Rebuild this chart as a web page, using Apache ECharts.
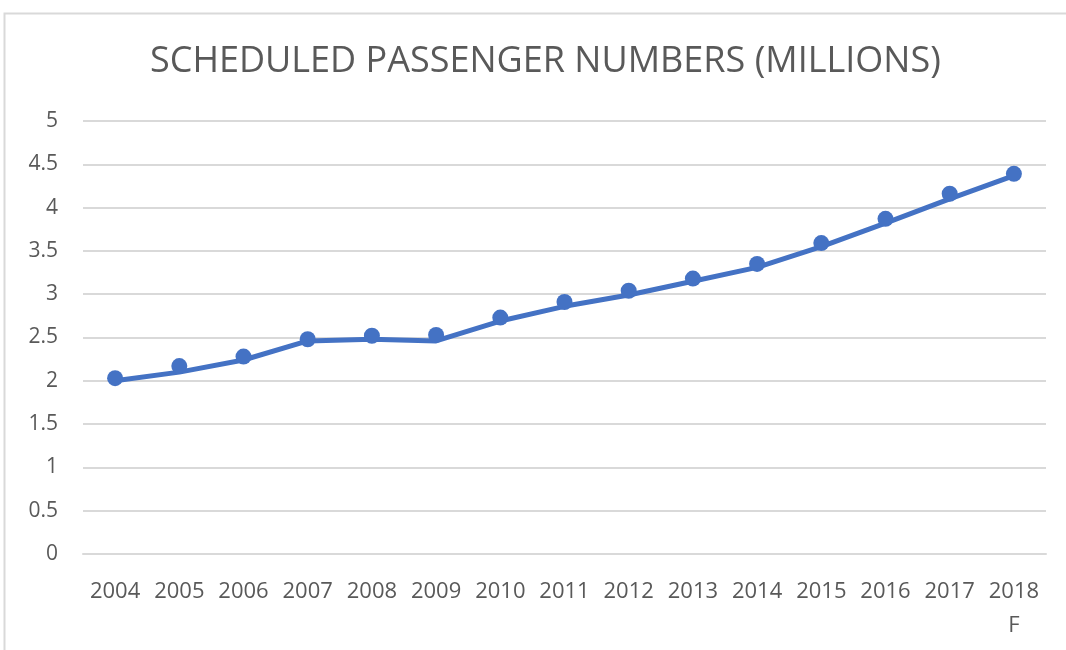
<!DOCTYPE html>
<html>
<head>
<meta charset="utf-8">
<script src="https://cdn.jsdelivr.net/npm/echarts@6/dist/echarts.min.js"></script>
<style>
html,body{margin:0;padding:0;background:#fff;}
#chart{width:1066px;height:650px;}
</style>
</head>
<body>
<div id="chart"></div>
<script>
// ---- data ----
const titleText = 'SCHEDULED PASSENGER NUMBERS (MILLIONS)';
const categories = ['2004','2005','2006','2007','2008','2009','2010','2011','2012','2013','2014','2015','2016','2017','2018\nF'];
const lineValues = [2.00, 2.10, 2.24, 2.46, 2.48, 2.46, 2.69, 2.86, 2.99, 3.15, 3.31, 3.55, 3.82, 4.10, 4.37];
const markerValues = [2.03, 2.17, 2.28, 2.48, 2.52, 2.53, 2.73, 2.91, 3.04, 3.18, 3.35, 3.59, 3.87, 4.16, 4.39];
const yMin = 0, yMax = 5, yStep = 0.5;

const chart = echarts.init(document.getElementById('chart'), null, {renderer:'canvas'});
const font = '"Open Sans", "Noto Sans", sans-serif';
chart.setOption({
  animation: false,
  backgroundColor: '#ffffff',
  graphic: [{
    type: 'rect', silent: true, z: -10,
    shape: {x: 4.5, y: 13.5, width: 1100, height: 700},
    style: {fill: 'none', stroke: '#d9d9d9', lineWidth: 2}
  }],
  title: {
    text: titleText,
    left: 145,
    top: 39,
    textStyle: {fontFamily: font, fontSize: 36, fontWeight: 'normal', color: '#595959'}
  },
  grid: {left: 83, right: 20, top: 121, bottom: 96, containLabel: false},
  xAxis: {
    type: 'category',
    data: categories,
    boundaryGap: true,
    axisLine: {show: true, lineStyle: {color: '#d9d9d9', width: 2}},
    axisTick: {show: false},
    axisLabel: {interval: 0, margin: 21, fontFamily: font, fontSize: 22, color: '#595959', lineHeight: 34}
  },
  yAxis: {
    type: 'value',
    min: yMin, max: yMax, interval: yStep,
    axisLine: {show: false},
    axisTick: {show: false},
    splitLine: {lineStyle: {color: '#d9d9d9', width: 2}},
    axisLabel: {margin: 25, fontFamily: font, fontSize: 21, color: '#595959'}
  },
  series: [
    {
      type: 'line',
      data: lineValues,
      symbol: 'none',
      lineStyle: {color: '#4472C4', width: 5},
      z: 2
    },
    {
      type: 'scatter',
      data: markerValues,
      symbol: 'circle',
      symbolSize: 16,
      itemStyle: {color: '#4472C4', opacity: 1},
      z: 3
    }
  ]
});
</script>
</body>
</html>
